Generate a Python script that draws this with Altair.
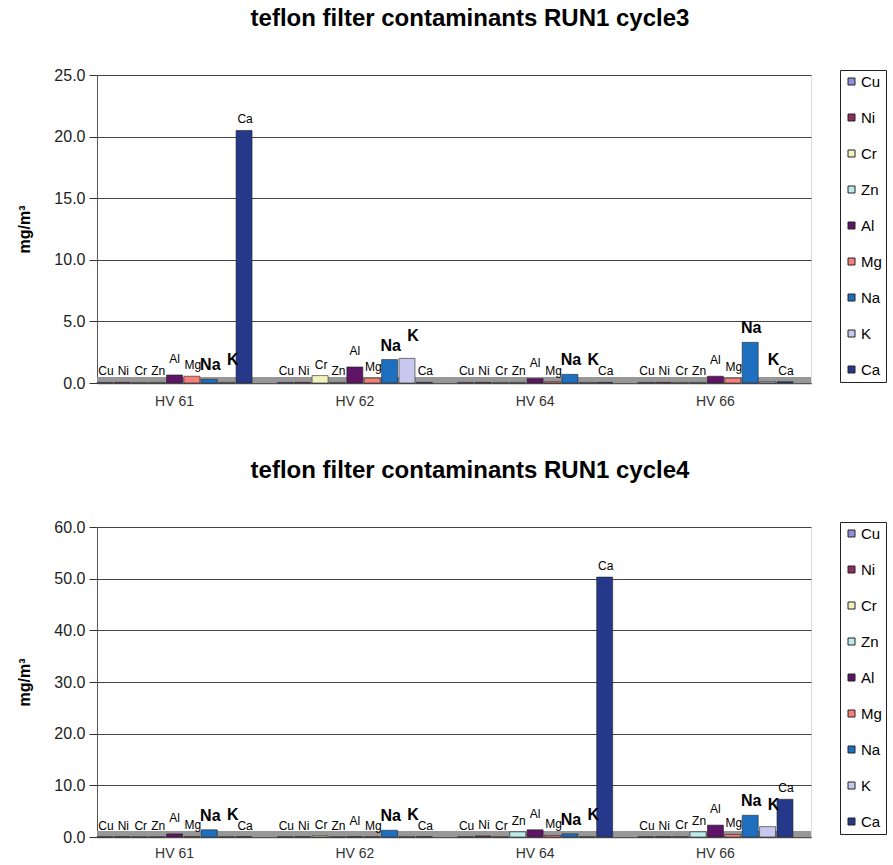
import altair as alt
import pandas as pd

elements = ["Cu", "Ni", "Cr", "Zn", "Al", "Mg", "Na", "K", "Ca"]
colors = ["#8F8FDA", "#8A2F5E", "#F2F2C0", "#BDEBEB", "#5E1566", "#F5807A", "#1F6FC0", "#C8C8EE", "#26388A"]
groups = ["HV 61", "HV 62", "HV 64", "HV 66"]

# cycle3 values (mg/m3), one list per site in element order
c3_hv61 = [0.05, 0.05, 0.05, 0.05, 0.65, 0.55, 0.3, 0.05, 20.5]
c3_hv62 = [0.05, 0.05, 0.6, 0.05, 1.3, 0.4, 1.9, 2.0, 0.05]
c3_hv64 = [0.05, 0.05, 0.05, 0.05, 0.35, 0.1, 0.7, 0.05, 0.05]
c3_hv66 = [0.05, 0.05, 0.05, 0.05, 0.55, 0.4, 3.3, 0.1, 0.1]

# cycle4 values (mg/m3)
c4_hv61 = [0.05, 0.05, 0.05, 0.05, 0.6, 0.1, 1.4, 0.05, 0.05]
c4_hv62 = [0.05, 0.05, 0.2, 0.05, 0.05, 0.05, 1.3, 0.05, 0.05]
c4_hv64 = [0.05, 0.2, 0.05, 1.0, 1.4, 0.3, 0.6, 0.05, 50.3]
c4_hv66 = [0.05, 0.05, 0.1, 1.0, 2.3, 0.5, 4.2, 2.0, 7.3]

y_ticks_c3 = [0.0, 5.0, 10.0, 15.0, 20.0, 25.0]
y_ticks_c4 = [0.0, 10.0, 20.0, 30.0, 40.0, 50.0, 60.0]

FONT = "Liberation Sans"
PLOT_W = 714


def make_df(series):
    rows = []
    for g, vals in zip(groups, series):
        for e, v in zip(elements, vals):
            rows.append({"site": g, "element": e, "value": v})
    return pd.DataFrame(rows)


def panel(df, title, ticks, height, xpad):
    base = alt.Chart(df).encode(
        x=alt.X(
            "site:N",
            sort=groups,
            scale=alt.Scale(paddingInner=0.14, paddingOuter=0.05, align=0),
            axis=alt.Axis(
                title=None, labelAngle=0, ticks=False, labelPadding=xpad,
                labelFontSize=14, labelColor="#333", labelFont=FONT,
                domainColor="#555", domainWidth=1.5,
            ),
        ),
        xOffset=alt.XOffset("element:N", sort=elements, scale=alt.Scale(paddingInner=0.08)),
    )
    yenc = alt.Y(
        "value:Q",
        scale=alt.Scale(domain=[ticks[0], ticks[-1]], nice=False),
        axis=alt.Axis(
            values=ticks, format=".1f", title="mg/m³", titleFontSize=16,
            titleFontWeight="bold", titleFont=FONT, titlePadding=21,
            labelFontSize=16, labelFont=FONT, labelColor="#222", labelPadding=4,
            tickSize=8, tickColor="#333", domainColor="#555",
            gridColor="#444", gridWidth=1,
        ),
    )
    floor = alt.Chart(df).mark_rect(color="#979797").encode(
        x=alt.value(0), x2=alt.value(PLOT_W),
        y=alt.value(height - 6), y2=alt.value(height),
    )
    bars = base.mark_bar(stroke="#222", strokeWidth=0.6).encode(
        y=yenc,
        color=alt.Color(
            "element:N", sort=elements,
            scale=alt.Scale(domain=elements, range=colors),
            legend=alt.Legend(
                title=None, orient="none", legendX=PLOT_W + 29, legendY=-5,
                symbolType="square", symbolSize=49, symbolStrokeColor="#222",
                symbolStrokeWidth=1, labelFontSize=15, labelFont=FONT,
                labelColor="#000", rowPadding=20, padding=4,
                strokeColor="#222", labelOffset=2,
            ),
        ),
    )
    small = base.transform_filter(
        "datum.element != 'Na' && datum.element != 'K' && datum.element != 'Al'"
    ).mark_text(baseline="bottom", dy=-4, dx=1, fontSize=12, font=FONT, color="#000").encode(
        y=alt.Y("value:Q"), text="element:N"
    )
    al = base.transform_filter("datum.element == 'Al'").mark_text(
        baseline="bottom", dy=-9, dx=0, fontSize=12, font=FONT, color="#000"
    ).encode(y=alt.Y("value:Q"), text="element:N")
    na = base.transform_filter("datum.element == 'Na'").mark_text(
        baseline="bottom", dy=-6, dx=1, fontSize=16, fontWeight="bold", font=FONT, color="#000"
    ).encode(y=alt.Y("value:Q"), text="element:N")
    k = base.transform_filter("datum.element == 'K'").mark_text(
        baseline="bottom", dy=-14, dx=6, fontSize=16, fontWeight="bold", font=FONT, color="#000"
    ).encode(y=alt.Y("value:Q"), text="element:N")
    return alt.layer(floor, bars, small, al, na, k).properties(
        width=PLOT_W, height=height,
        title=alt.TitleParams(title, fontSize=24, fontWeight="bold", font=FONT,
                              anchor="middle", dx=16, offset=36),
    )


top = panel(make_df([c3_hv61, c3_hv62, c3_hv64, c3_hv66]),
            "teflon filter contaminants RUN1 cycle3", y_ticks_c3, 308, 11)
bottom = panel(make_df([c4_hv61, c4_hv62, c4_hv64, c4_hv66]),
               "teflon filter contaminants RUN1 cycle4", y_ticks_c4, 310, 9)

chart = alt.vconcat(top, bottom, spacing=49).resolve_scale(
    color="independent", x="independent", y="independent"
).properties(
    padding={"left": 16, "top": 6, "right": 0, "bottom": 0}
).configure_view(stroke="#777").configure(background="white")

chart.save("out.html", embed_options={"renderer": "svg", "actions": False})
